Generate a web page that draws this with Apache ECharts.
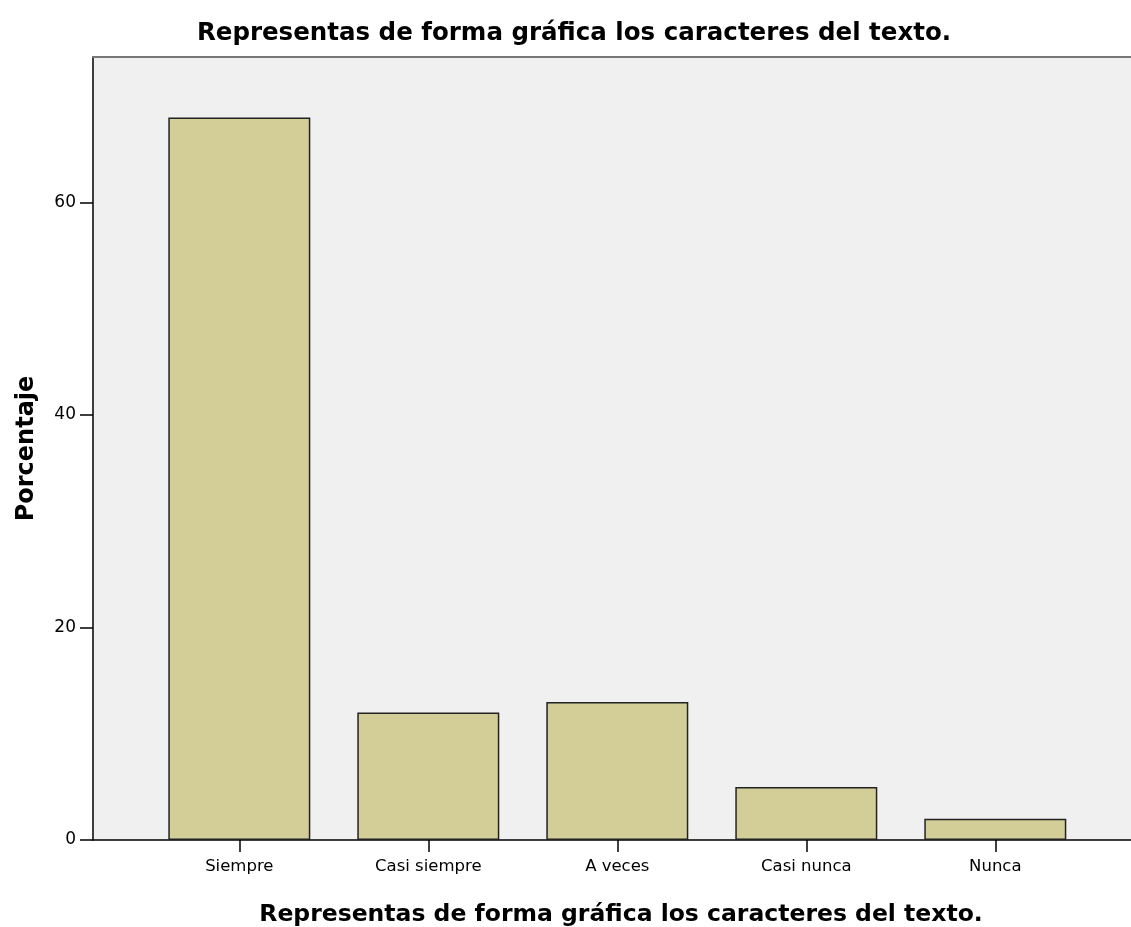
<!DOCTYPE html>
<html>
<head>
<meta charset="utf-8">
<script src="https://cdn.jsdelivr.net/npm/echarts@6/dist/echarts.min.js"></script>
<style>
  html, body { margin: 0; padding: 0; background: #fff; }
  #chart { width: 1131px; height: 927px; }
</style>
</head>
<body>
<div id="chart"></div>
<script>
// categorias y porcentajes
const categorias = ['Siempre', 'Casi siempre', 'A veces', 'Casi nunca', 'Nunca']
const porcentajes = [68, 12, 13, 5, 2]
const yTicks = [0, 20, 40, 60]
const yMax = 73.7

const titulo = 'Representas de forma gráfica los caracteres del texto.'

const chart = echarts.init(document.getElementById('chart'))

const option = {
  backgroundColor: '#ffffff',
  animation: false,
  title: [
    {
      text: titulo,
      left: 569,
      top: 16,
      textAlign: 'center',
      textStyle: { fontFamily: 'DejaVu Sans', fontWeight: 'bold', fontSize: 24.5, color: '#000' }
    },
    {
      text: titulo,
      left: 616,
      top: 898,
      textAlign: 'center',
      textStyle: { fontFamily: 'DejaVu Sans', fontWeight: 'bold', fontSize: 23.5, color: '#000' }
    }
  ],
  grid: [
    { left: 93, top: 57, right: 0, bottom: 87, show: true, backgroundColor: '#f0f0f0', borderWidth: 0 },
    { left: 144.8, top: 57, width: 945, bottom: 87 }
  ],
  xAxis: [
    {
      gridIndex: 0, type: 'value', min: 0, max: 1,
      axisLine: { show: true, onZero: false, lineStyle: { color: '#000', width: 1.5 } },
      axisTick: { show: false }, axisLabel: { show: false }, splitLine: { show: false }
    },
    {
      gridIndex: 0, type: 'value', min: 0, max: 1, position: 'top',
      axisLine: { show: true, onZero: false, lineStyle: { color: '#777', width: 2 } },
      axisTick: { show: false }, axisLabel: { show: false }, splitLine: { show: false }
    },
    {
      gridIndex: 1, type: 'category', data: categorias,
      axisLine: { show: false },
      axisTick: { show: true, alignWithLabel: true, length: 12, lineStyle: { color: '#000', width: 1.5 } },
      axisLabel: { fontFamily: 'DejaVu Sans', fontSize: 16.5, color: '#000', margin: 18 }
    }
  ],
  yAxis: [
    {
      gridIndex: 0, type: 'value', min: 0, max: yMax,
      name: 'Porcentaje', nameLocation: 'middle', nameGap: 54,
      nameTextStyle: { fontFamily: 'DejaVu Sans', fontWeight: 'bold', fontSize: 24, color: '#000' },
      axisLine: { show: true, lineStyle: { color: '#000', width: 1.5 } },
      axisTick: { show: true, length: 13, customValues: yTicks, lineStyle: { color: '#000', width: 1.5 } },
      axisLabel: {
        fontFamily: 'DejaVu Sans', fontSize: 17, color: '#000', margin: 17,
        customValues: yTicks
      },
      splitLine: { show: false }
    },
    {
      gridIndex: 1, type: 'value', min: 0, max: yMax, show: false
    }
  ],
  series: [
    {
      type: 'bar',
      xAxisIndex: 2,
      yAxisIndex: 1,
      data: porcentajes,
      barWidth: 142,
      itemStyle: { color: '#d3ce97', borderColor: '#222', borderWidth: 1.5 }
    }
  ]
}

chart.setOption(option)
</script>
</body>
</html>
